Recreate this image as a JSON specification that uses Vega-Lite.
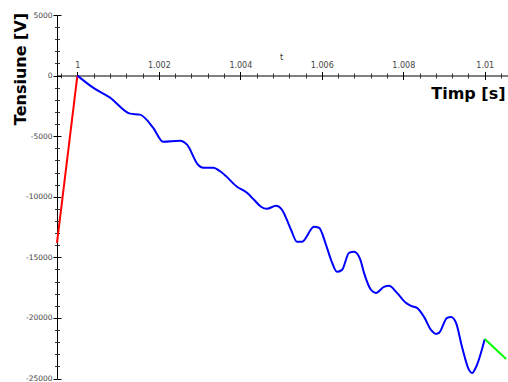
{
  "$schema": "https://vega.github.io/schema/vega-lite/v6.json",
  "width": 451,
  "height": 363.5,
  "autosize": "none",
  "padding": {"left": 57, "top": 15, "right": 0, "bottom": 3},
  "background": "white",
  "config": {"view": {"stroke": null}},
  "title": {"text": "t", "fontSize": 8, "font": "DejaVu Sans", "fontWeight": "normal", "color": "#333333", "anchor": "middle", "frame": "group", "offset": -51, "dx": -1},
  "data": {"values": [
    {"s": "a", "t": 0.9995, "v": -13800},
    {"s": "a", "t": 1.0, "v": 0},
    {"s": "b", "t": 1.0, "v": 0},
    {"s": "b", "t": 1.000385, "v": -992},
    {"s": "b", "t": 1.000802, "v": -1818},
    {"s": "b", "t": 1.001293, "v": -3140},
    {"s": "b", "t": 1.001539, "v": -3223},
    {"s": "b", "t": 1.001858, "v": -4297},
    {"s": "b", "t": 1.002103, "v": -5454},
    {"s": "b", "t": 1.00252, "v": -5372},
    {"s": "b", "t": 1.002692, "v": -5702},
    {"s": "b", "t": 1.002962, "v": -7355},
    {"s": "b", "t": 1.003085, "v": -7603},
    {"s": "b", "t": 1.00333, "v": -7603},
    {"s": "b", "t": 1.003551, "v": -8016},
    {"s": "b", "t": 1.003919, "v": -9173},
    {"s": "b", "t": 1.004164, "v": -9669},
    {"s": "b", "t": 1.004336, "v": -10248},
    {"s": "b", "t": 1.004508, "v": -10826},
    {"s": "b", "t": 1.004655, "v": -10992},
    {"s": "b", "t": 1.004876, "v": -10744},
    {"s": "b", "t": 1.005023, "v": -11074},
    {"s": "b", "t": 1.005244, "v": -12727},
    {"s": "b", "t": 1.005391, "v": -13719},
    {"s": "b", "t": 1.005514, "v": -13719},
    {"s": "b", "t": 1.005808, "v": -12479},
    {"s": "b", "t": 1.005931, "v": -12562},
    {"s": "b", "t": 1.006103, "v": -13967},
    {"s": "b", "t": 1.006226, "v": -15207},
    {"s": "b", "t": 1.006373, "v": -16198},
    {"s": "b", "t": 1.006496, "v": -16033},
    {"s": "b", "t": 1.006668, "v": -14628},
    {"s": "b", "t": 1.006791, "v": -14545},
    {"s": "b", "t": 1.006938, "v": -15124},
    {"s": "b", "t": 1.007036, "v": -16281},
    {"s": "b", "t": 1.007208, "v": -17686},
    {"s": "b", "t": 1.007331, "v": -17934},
    {"s": "b", "t": 1.007527, "v": -17438},
    {"s": "b", "t": 1.00765, "v": -17355},
    {"s": "b", "t": 1.007846, "v": -17934},
    {"s": "b", "t": 1.008067, "v": -18760},
    {"s": "b", "t": 1.00819, "v": -19008},
    {"s": "b", "t": 1.008337, "v": -19174},
    {"s": "b", "t": 1.008509, "v": -19917},
    {"s": "b", "t": 1.008681, "v": -20992},
    {"s": "b", "t": 1.008804, "v": -21322},
    {"s": "b", "t": 1.008877, "v": -21240},
    {"s": "b", "t": 1.009074, "v": -20000},
    {"s": "b", "t": 1.009172, "v": -19917},
    {"s": "b", "t": 1.009295, "v": -20413},
    {"s": "b", "t": 1.009442, "v": -22397},
    {"s": "b", "t": 1.009614, "v": -24298},
    {"s": "b", "t": 1.009688, "v": -24545},
    {"s": "b", "t": 1.009786, "v": -24050},
    {"s": "b", "t": 1.01, "v": -21736},
    {"s": "c", "t": 1.01, "v": -21736},
    {"s": "c", "t": 1.010524, "v": -23388}
  ]},
  "layer": [
    {
      "transform": [{"filter": "datum.s === 'a'"}],
      "mark": {"type": "line", "strokeWidth": 2, "color": "#ff0000"},
      "encoding": {
        "x": {
          "field": "t", "type": "quantitative",
          "scale": {"domain": [0.9995, 1.01057], "nice": false, "zero": false},
          "axis": {
            "orient": "top", "offset": -60.5, "grid": false,
            "values": [1, 1.002, 1.004, 1.006, 1.008, 1.01], "format": "~g",
            "labelFont": "DejaVu Sans", "labelFontSize": 8, "labelColor": "#444",
            "labelPadding": 2, "labelFlush": false, "labelOverlap": false,
            "tickSize": 4, "tickColor": "black", "domainColor": "black",
            "title": "Timp [s]", "titleX": 448, "titleY": 23, "titleAlign": "right",
            "titleBaseline": "alphabetic", "titleFont": "DejaVu Sans", "titleFontSize": 16,
            "titleFontWeight": "bold", "titleColor": "black"
          }
        },
        "y": {
          "field": "v", "type": "quantitative",
          "scale": {"domain": [-25000, 5000], "nice": false},
          "axis": {
            "orient": "left", "grid": false,
            "values": [-25000, -20000, -15000, -10000, -5000, 0, 5000],
            "labelExpr": "'' + datum.value",
            "labelFont": "DejaVu Sans", "labelFontSize": 7.5, "labelColor": "#444",
            "labelPadding": 1, "labelFlush": false, "labelOverlap": false,
            "tickSize": 4, "tickColor": "black", "domainColor": "black",
            "title": "Tensiune [V]", "titleX": -32, "titleY": 53.5, "titleAngle": 270,
            "titleAlign": "center", "titleBaseline": "alphabetic",
            "titleFont": "DejaVu Sans", "titleFontSize": 16, "titleFontWeight": "bold", "titleColor": "black"
          }
        }
      }
    },
    {
      "transform": [{"filter": "datum.s === 'b'"}],
      "mark": {"type": "line", "strokeWidth": 2, "color": "#0000ff", "interpolate": "monotone"},
      "encoding": {
        "x": {
          "field": "t", "type": "quantitative",
          "axis": {
            "orient": "top", "offset": -64.5, "grid": false, "domain": false, "labels": false, "title": null,
            "values": [1, 1.002, 1.004, 1.006, 1.008, 1.01],
            "tickSize": 4, "tickColor": "black"
          }
        },
        "y": {
          "field": "v", "type": "quantitative",
          "axis": {
            "orient": "left", "offset": -4, "grid": false, "domain": false, "labels": false, "title": null,
            "values": [-25000, -20000, -15000, -10000, -5000, 0, 5000],
            "tickSize": 4, "tickColor": "black"
          }
        }
      }
    },
    {
      "transform": [{"filter": "datum.s === 'c'"}],
      "mark": {"type": "line", "strokeWidth": 2, "color": "#00ff00"},
      "encoding": {
        "x": {
          "field": "t", "type": "quantitative",
          "axis": {
            "orient": "top", "offset": -63, "grid": false, "domain": false, "labels": false, "title": null,
            "values": [0.9996, 1.0004, 1.0008, 1.0012, 1.0016, 1.0024, 1.0028, 1.0032, 1.0036, 1.0044, 1.0048, 1.0052, 1.0056, 1.0064, 1.0068, 1.0072, 1.0076, 1.0084, 1.0088, 1.0092, 1.0096, 1.0104],
            "tickSize": 5, "tickColor": "#333"
          }
        },
        "y": {
          "field": "v", "type": "quantitative",
          "axis": {
            "orient": "left", "offset": -2.5, "grid": false, "domain": false, "labels": false, "title": null,
            "values": [4000, 3000, 2000, 1000, -1000, -2000, -3000, -4000, -6000, -7000, -8000, -9000, -11000, -12000, -13000, -14000, -16000, -17000, -18000, -19000, -21000, -22000, -23000, -24000],
            "tickSize": 5, "tickColor": "#333"
          }
        }
      }
    }
  ],
  "resolve": {"axis": {"x": "independent", "y": "independent"}}
}
